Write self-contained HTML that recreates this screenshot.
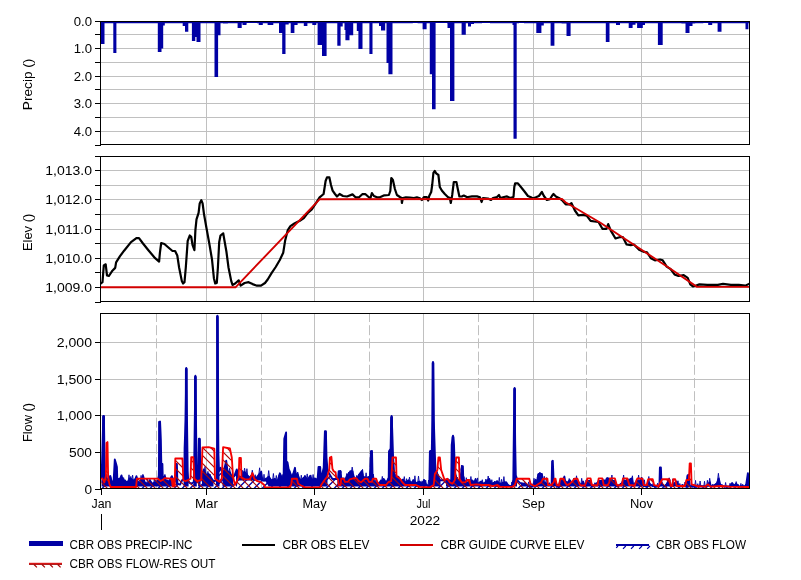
<!DOCTYPE html><html><head><meta charset="utf-8"><title>CBR</title>
<style>html,body{margin:0;padding:0;background:#fff;}svg{display:block}text{filter:grayscale(1);font-family:"Liberation Sans",sans-serif;font-size:12px;fill:#000}</style></head><body>
<svg width="801" height="580" viewBox="0 0 801 580">
<defs>
<pattern id="hb" width="8" height="8" patternUnits="userSpaceOnUse"><path d="M-1,7.5 L7.5,-1 M5.5,9 L9,5.5" stroke="#0000a4" stroke-width="1.25" fill="none"/></pattern>
<pattern id="hr" width="8" height="8" patternUnits="userSpaceOnUse"><path d="M2,-1 L9,6 M-1,4 L4,9" stroke="#a80808" stroke-width="1.2" fill="none"/></pattern>
<clipPath id="c1"><rect x="101" y="22" width="648" height="122"/></clipPath>
<clipPath id="c2"><rect x="101" y="157" width="648" height="144"/></clipPath>
<clipPath id="c3"><rect x="101" y="314" width="648" height="175"/></clipPath>
</defs>
<rect width="801" height="580" fill="#fff"/>
<rect x="101" y="34" width="648" height="1" fill="#c0c0c0"/>
<rect x="101" y="48" width="648" height="1" fill="#c0c0c0"/>
<rect x="101" y="62" width="648" height="1" fill="#c0c0c0"/>
<rect x="101" y="76" width="648" height="1" fill="#c0c0c0"/>
<rect x="101" y="89" width="648" height="1" fill="#c0c0c0"/>
<rect x="101" y="103" width="648" height="1" fill="#c0c0c0"/>
<rect x="101" y="117" width="648" height="1" fill="#c0c0c0"/>
<rect x="101" y="131" width="648" height="1" fill="#c0c0c0"/>
<rect x="206" y="22" width="1" height="122" fill="#c0c0c0"/>
<rect x="314" y="22" width="1" height="122" fill="#c0c0c0"/>
<rect x="423" y="22" width="1" height="122" fill="#c0c0c0"/>
<rect x="533" y="22" width="1" height="122" fill="#c0c0c0"/>
<rect x="641" y="22" width="1" height="122" fill="#c0c0c0"/>
<rect x="101" y="170" width="648" height="1" fill="#c0c0c0"/>
<rect x="101" y="185" width="648" height="1" fill="#c0c0c0"/>
<rect x="101" y="199" width="648" height="1" fill="#c0c0c0"/>
<rect x="101" y="214" width="648" height="1" fill="#c0c0c0"/>
<rect x="101" y="229" width="648" height="1" fill="#c0c0c0"/>
<rect x="101" y="243" width="648" height="1" fill="#c0c0c0"/>
<rect x="101" y="258" width="648" height="1" fill="#c0c0c0"/>
<rect x="101" y="272" width="648" height="1" fill="#c0c0c0"/>
<rect x="101" y="287" width="648" height="1" fill="#c0c0c0"/>
<rect x="206" y="157" width="1" height="144" fill="#c0c0c0"/>
<rect x="314" y="157" width="1" height="144" fill="#c0c0c0"/>
<rect x="423" y="157" width="1" height="144" fill="#c0c0c0"/>
<rect x="533" y="157" width="1" height="144" fill="#c0c0c0"/>
<rect x="641" y="157" width="1" height="144" fill="#c0c0c0"/>
<rect x="101" y="452" width="648" height="1" fill="#c0c0c0"/>
<rect x="101" y="415" width="648" height="1" fill="#c0c0c0"/>
<rect x="101" y="379" width="648" height="1" fill="#c0c0c0"/>
<rect x="101" y="342" width="648" height="1" fill="#c0c0c0"/>
<rect x="206" y="314" width="1" height="174" fill="#c0c0c0"/>
<rect x="314" y="314" width="1" height="174" fill="#c0c0c0"/>
<rect x="423" y="314" width="1" height="174" fill="#c0c0c0"/>
<rect x="533" y="314" width="1" height="174" fill="#c0c0c0"/>
<rect x="641" y="314" width="1" height="174" fill="#c0c0c0"/>
<line x1="156.5" y1="314" x2="156.5" y2="488" stroke="#c0c0c0" stroke-width="1" stroke-dasharray="10,3.2" stroke-dashoffset="2"/>
<line x1="261.5" y1="314" x2="261.5" y2="488" stroke="#c0c0c0" stroke-width="1" stroke-dasharray="10,3.2" stroke-dashoffset="2"/>
<line x1="369.5" y1="314" x2="369.5" y2="488" stroke="#c0c0c0" stroke-width="1" stroke-dasharray="10,3.2" stroke-dashoffset="2"/>
<line x1="478.5" y1="314" x2="478.5" y2="488" stroke="#c0c0c0" stroke-width="1" stroke-dasharray="10,3.2" stroke-dashoffset="2"/>
<line x1="586.5" y1="314" x2="586.5" y2="488" stroke="#c0c0c0" stroke-width="1" stroke-dasharray="10,3.2" stroke-dashoffset="2"/>
<line x1="694.5" y1="314" x2="694.5" y2="488" stroke="#c0c0c0" stroke-width="1" stroke-dasharray="10,3.2" stroke-dashoffset="2"/>
<g clip-path="url(#c1)" fill="#0000a4">
<path d="M101,21 L101.0,23.2 L101.0,44.0 L104.5,44.0 L104.5,23.2 L113.3,23.2 L113.3,53.0 L116.4,53.0 L116.4,23.2 L157.8,23.2 L157.8,52.0 L161.5,52.0 L161.5,23.2 L161.5,23.2 L161.5,48.5 L163.2,48.5 L163.2,23.2 L163.2,23.2 L163.2,25.5 L164.8,25.5 L164.8,23.2 L182.7,23.2 L182.7,26.0 L185.0,26.0 L185.0,23.2 L185.0,23.2 L185.0,31.7 L188.3,31.7 L188.3,23.2 L191.9,23.2 L191.9,41.0 L195.3,41.0 L195.3,23.2 L195.3,23.2 L195.3,37.0 L196.5,37.0 L196.5,23.2 L196.5,23.2 L196.5,42.0 L200.5,42.0 L200.5,23.2 L214.5,23.2 L214.5,77.0 L218.1,77.0 L218.1,23.2 L218.1,23.2 L218.1,35.3 L220.5,35.3 L220.5,23.2 L223.0,23.2 L223.0,23.4 L227.9,23.4 L227.9,23.2 L237.6,23.2 L237.6,28.0 L241.7,28.0 L241.7,23.2 L242.5,23.2 L242.5,25.0 L246.5,25.0 L246.5,23.2 L247.0,23.2 L247.0,23.0 L257.0,23.0 L257.0,23.2 L258.7,23.2 L258.7,25.0 L262.8,25.0 L262.8,23.2 L267.6,23.2 L267.6,25.0 L273.3,25.0 L273.3,23.2 L279.0,23.2 L279.0,32.9 L282.2,32.9 L282.2,23.2 L282.2,23.2 L282.2,54.0 L285.5,54.0 L285.5,23.2 L285.5,23.2 L285.5,24.5 L288.7,24.5 L288.7,23.2 L290.7,23.2 L290.7,32.9 L294.4,32.9 L294.4,23.2 L294.4,23.2 L294.4,25.0 L297.6,25.0 L297.6,23.2 L303.8,23.2 L303.8,26.0 L307.4,26.0 L307.4,23.2 L312.3,23.2 L312.3,25.0 L316.3,25.0 L316.3,23.2 L317.6,23.2 L317.6,45.0 L322.0,45.0 L322.0,23.2 L322.0,23.2 L322.0,56.0 L326.6,56.0 L326.6,23.2 L337.3,23.2 L337.3,45.8 L340.6,45.8 L340.6,23.2 L340.6,23.2 L340.6,26.4 L342.7,26.4 L342.7,23.2 L344.5,23.2 L344.5,30.0 L345.4,30.0 L345.4,23.2 L345.4,23.2 L345.4,40.2 L349.5,40.2 L349.5,23.2 L349.5,23.2 L349.5,35.3 L353.2,35.3 L353.2,23.2 L356.8,23.2 L356.8,31.0 L358.4,31.0 L358.4,23.2 L358.4,23.2 L358.4,49.0 L362.5,49.0 L362.5,23.2 L369.4,23.2 L369.4,54.0 L372.5,54.0 L372.5,23.2 L379.0,23.2 L379.0,26.0 L381.0,26.0 L381.0,23.2 L381.0,23.2 L381.0,30.4 L385.2,30.4 L385.2,23.2 L386.5,23.2 L386.5,63.0 L388.4,63.0 L388.4,23.2 L388.4,23.2 L388.4,74.3 L392.5,74.3 L392.5,23.2 L412.8,23.2 L412.8,23.0 L417.6,23.0 L417.6,23.2 L422.6,23.2 L422.6,29.3 L426.6,29.3 L426.6,23.2 L429.8,23.2 L429.8,74.3 L432.0,74.3 L432.0,23.2 L432.0,23.2 L432.0,109.2 L435.6,109.2 L435.6,23.2 L435.6,23.2 L435.6,23.0 L447.0,23.0 L447.0,23.2 L447.5,23.2 L447.5,28.0 L450.0,28.0 L450.0,23.2 L450.0,23.2 L450.0,101.0 L454.4,101.0 L454.4,23.2 L461.6,23.2 L461.6,34.8 L465.8,34.8 L465.8,23.2 L468.0,23.2 L468.0,26.6 L471.0,26.6 L471.0,23.2 L471.0,23.2 L471.0,24.0 L474.0,24.0 L474.0,23.2 L482.0,23.2 L482.0,23.0 L490.0,23.0 L490.0,23.2 L512.5,23.2 L512.5,25.0 L513.5,25.0 L513.5,23.2 L513.5,23.2 L513.5,138.7 L516.7,138.7 L516.7,23.2 L519.0,23.2 L519.0,23.0 L524.0,23.0 L524.0,23.2 L536.3,23.2 L536.3,32.9 L541.4,32.9 L541.4,23.2 L541.4,23.2 L541.4,25.5 L543.8,25.5 L543.8,23.2 L550.6,23.2 L550.6,45.8 L554.4,45.8 L554.4,23.2 L561.6,23.2 L561.6,23.4 L566.5,23.4 L566.5,23.2 L566.5,23.2 L566.5,36.0 L570.6,36.0 L570.6,23.2 L577.9,23.2 L577.9,23.2 L583.6,23.2 L583.6,23.2 L605.8,23.2 L605.8,42.1 L609.5,42.1 L609.5,23.2 L616.0,23.2 L616.0,25.0 L620.0,25.0 L620.0,23.2 L628.7,23.2 L628.7,28.0 L632.6,28.0 L632.6,23.2 L632.6,23.2 L632.6,24.7 L635.5,24.7 L635.5,23.2 L637.1,23.2 L637.1,28.0 L642.8,28.0 L642.8,23.2 L642.8,23.2 L642.8,25.0 L645.0,25.0 L645.0,23.2 L657.9,23.2 L657.9,45.0 L662.7,45.0 L662.7,23.2 L681.4,23.2 L681.4,23.5 L685.5,23.5 L685.5,23.2 L685.5,23.2 L685.5,32.9 L689.5,32.9 L689.5,23.2 L689.5,23.2 L689.5,26.0 L692.5,26.0 L692.5,23.2 L692.5,23.2 L692.5,23.5 L695.2,23.5 L695.2,23.2 L703.3,23.2 L703.3,23.0 L708.2,23.0 L708.2,23.2 L708.2,23.2 L708.2,25.0 L712.2,25.0 L712.2,23.2 L717.6,23.2 L717.6,31.7 L721.5,31.7 L721.5,23.2 L745.5,23.2 L745.5,29.3 L748.4,29.3 L748.4,23.2 L749,23.2 L749,21 Z"/>
</g>
<g clip-path="url(#c2)" fill="none" stroke-linejoin="round" stroke-linecap="round">
<polyline points="100.9,283.5 102.5,282.2 103.8,265.4 105.7,264.3 107.0,275.5 108.9,276.0 112.4,270.7 115.2,267.9 116.1,262.4 120.0,256.2 124.1,250.7 131.0,242.1 136.4,238.1 139.0,238.1 143.0,243.5 148.4,250.2 155.1,258.2 159.1,261.6 159.9,252.8 161.2,243.0 164.4,244.0 168.4,247.5 172.5,251.0 175.1,251.0 177.3,255.5 179.1,267.5 181.8,280.9 183.1,283.5 184.5,282.2 185.8,267.5 187.7,240.8 189.8,235.5 191.2,236.8 192.5,244.8 194.4,250.2 195.4,230.1 196.5,219.4 198.6,212.8 199.7,203.4 201.3,200.2 202.6,203.4 204.0,214.1 206.6,228.8 209.3,243.5 212.0,259.5 213.9,278.2 215.2,283.5 216.8,283.0 217.9,267.5 219.2,242.1 220.5,235.5 223.2,233.3 224.5,240.8 226.4,251.5 228.5,267.5 231.2,280.9 232.5,284.9 235.2,283.5 238.7,280.3 240.6,285.7 244.6,283.0 248.6,282.2 252.6,284.1 257.0,285.7 261.0,285.7 265.0,283.0 267.7,279.5 271.7,272.9 275.7,267.0 279.8,260.0 283.2,252.8 285.1,240.8 287.8,230.1 290.4,226.1 294.4,223.5 299.8,220.8 303.8,218.1 307.8,212.8 311.8,209.3 315.8,203.4 319.6,197.3 323.6,194.0 325.6,181.0 327.0,177.4 329.4,177.4 331.0,185.0 332.6,190.6 335.0,194.0 337.0,196.5 339.6,194.0 343.0,196.0 347.0,196.5 352.5,194.4 355.5,197.3 359.0,197.3 362.3,194.2 365.5,194.2 368.9,197.3 370.5,197.9 371.9,193.0 373.9,196.0 376.9,197.3 379.9,197.3 384.3,195.3 388.9,195.0 390.3,191.0 391.3,178.0 392.9,180.0 394.9,189.0 396.9,195.0 399.9,197.0 401.5,198.0 401.9,203.0 402.9,198.0 405.9,197.3 409.9,197.5 413.9,198.0 416.9,197.3 419.9,198.3 421.9,200.0 423.9,197.0 426.8,197.0 428.2,200.5 429.2,196.0 431.2,192.0 432.2,185.0 433.4,173.0 434.8,171.0 436.2,173.4 438.4,175.0 439.8,187.0 441.8,190.5 444.8,194.0 447.8,197.0 449.8,198.0 450.8,203.0 452.2,195.0 453.8,182.0 456.4,182.0 457.8,189.0 459.4,196.5 461.8,196.5 463.8,195.5 466.8,197.0 468.0,197.0 472.0,196.4 477.0,196.4 480.0,197.3 481.6,202.0 483.0,198.0 488.0,198.5 491.0,200.0 493.0,198.0 497.0,197.0 499.0,195.0 500.3,198.0 504.0,197.0 507.0,196.4 510.0,198.0 513.5,197.0 514.3,187.0 515.1,183.4 517.9,183.4 520.9,187.0 524.9,192.0 527.9,196.0 530.9,197.3 532.9,198.5 535.9,197.3 538.9,196.0 541.9,192.0 543.9,196.0 546.9,200.0 549.9,199.3 551.9,196.0 553.5,194.0 555.9,196.5 558.9,198.0 561.9,200.0 565.7,204.4 569.7,204.4 571.5,203.1 574.9,210.5 578.3,215.4 582.8,214.9 586.7,215.7 590.6,220.9 594.6,221.5 598.5,222.0 602.4,228.8 606.4,228.8 608.2,224.1 610.8,230.6 615.5,238.5 619.5,237.2 622.9,237.2 626.6,244.5 630.8,245.1 633.9,244.5 639.1,249.8 643.1,251.6 647.0,252.4 650.9,258.2 654.9,260.3 660.1,259.5 662.7,260.3 666.7,266.6 670.6,269.2 674.5,274.4 678.5,276.0 683.7,275.2 687.7,277.8 690.3,284.4 692.9,286.5 695.5,285.7 699.4,284.4 707.3,284.9 717.8,284.9 723.0,283.9 730.9,284.9 738.8,284.9 745.3,285.7 749.0,283.9" stroke="#000" stroke-width="2.2"/>
<polyline points="101.0,287.3 235.5,287.3 319.8,199.2 562.0,199.0 565.5,202.3 600.0,222.5 670.0,268.5 697.0,286.9 749.0,286.9" stroke="#d20000" stroke-width="1.9"/>
</g>
<g clip-path="url(#c3)" stroke-linejoin="round">
<polygon points="101.5,489 101.6,477.6 102.4,450.0 103.3,416.0 103.9,416.0 104.4,450.0 104.8,475.6 106.7,479.4 109.1,479.4 110.4,476.2 111.5,481.0 113.5,482.6 114.2,470.8 114.8,459.5 116.0,463.5 116.9,466.9 117.3,479.4 120.2,478.6 121.5,475.4 122.6,479.4 125.0,481.0 127.4,482.6 129.7,478.6 131.3,479.1 133.7,481.0 135.3,479.4 136.4,476.2 137.5,481.6 140.0,482.6 143.2,476.2 144.5,482.6 148.0,483.6 150.0,480.6 152.0,483.6 155.0,482.6 158.6,480.1 158.9,471.1 159.3,421.8 160.0,421.5 160.8,440.0 161.3,463.0 162.4,464.0 162.8,479.4 164.7,476.2 166.0,480.6 169.0,481.6 171.8,476.2 173.4,480.2 175.8,481.6 176.3,464.0 176.9,464.0 177.4,483.6 180.0,484.6 182.5,479.6 184.2,479.6 184.4,471.1 184.6,448.0 185.6,420.0 186.3,368.0 187.0,420.0 187.7,471.1 188.2,480.6 189.4,482.6 191.0,483.6 193.5,482.6 194.0,479.6 194.8,420.0 195.4,375.8 196.0,420.0 196.7,479.6 197.5,481.6 198.2,478.6 198.9,438.7 199.7,438.7 200.4,478.6 200.8,480.6 202.0,477.6 203.7,469.4 206.2,475.3 208.7,474.0 211.2,477.8 213.7,481.6 216.9,479.6 217.2,430.0 217.4,315.6 217.8,400.0 218.3,455.0 219.0,471.1 220.6,467.8 223.0,475.3 226.2,460.6 227.5,471.1 230.0,472.6 232.4,477.8 234.5,475.6 236.8,469.4 238.7,476.6 241.0,477.6 244.3,471.8 247.4,475.3 249.9,477.8 252.4,474.0 254.9,479.0 257.4,476.6 261.2,471.8 262.4,480.3 264.9,480.3 268.7,476.6 271.1,480.3 274.9,479.0 277.4,481.6 279.9,473.3 282.4,479.0 283.6,477.6 284.3,438.7 286.1,432.5 286.3,461.2 287.5,462.4 288.7,469.4 291.2,475.3 292.5,476.6 295.0,467.8 295.6,475.3 297.5,474.0 299.4,479.0 301.2,480.3 305.0,476.6 307.5,480.3 310.0,475.9 311.8,480.3 315.0,478.4 317.5,480.3 318.5,467.0 320.2,467.0 320.8,480.3 323.7,467.8 324.9,431.2 325.9,431.2 326.5,457.5 327.6,471.1 332.4,479.0 338.0,479.0 338.7,471.1 340.6,471.1 341.2,477.8 344.9,480.3 347.4,475.3 348.7,474.0 350.5,471.1 352.4,471.1 353.7,476.6 356.2,480.3 358.7,475.3 361.8,471.1 363.0,476.6 366.1,477.8 369.9,476.6 370.9,451.2 372.0,451.0 372.5,474.0 373.7,481.6 377.5,484.0 382.5,480.3 383.7,479.0 386.2,482.8 388.7,477.8 389.0,451.2 390.6,448.7 391.2,420.0 391.6,416.0 392.2,430.0 393.1,457.5 394.3,475.3 398.7,477.2 400.0,481.6 403.1,479.6 405.0,482.8 408.7,480.3 411.2,482.8 413.7,480.3 416.2,483.4 419.3,481.6 422.4,484.0 424.3,480.3 425.5,484.0 429.3,486.5 429.9,451.2 431.8,450.0 432.4,420.0 433.0,362.0 433.8,420.0 434.9,455.0 435.5,471.1 438.0,475.3 439.9,480.3 444.9,480.3 447.4,479.0 451.2,481.6 451.7,445.0 453.0,435.6 454.0,445.0 455.0,474.0 457.4,480.3 459.9,481.6 462.1,466.3 462.9,466.3 463.3,480.3 466.2,481.6 468.7,484.0 471.9,480.3 473.7,484.0 475.6,479.0 477.5,484.0 481.2,481.6 483.7,484.0 489.3,479.0 491.2,484.0 493.7,482.8 497.5,481.6 499.9,484.0 503.0,482.8 506.2,482.1 508.0,485.3 511.8,486.5 513.3,479.6 514.0,420.0 514.6,388.0 515.2,445.0 515.8,475.3 517.4,480.3 519.9,482.8 524.9,484.0 529.9,486.5 532.4,486.5 535.5,480.3 536.8,482.8 538.5,474.0 541.9,474.0 543.0,481.6 547.4,484.0 551.6,485.3 552.1,461.2 552.8,460.8 553.6,480.3 555.5,481.3 556.7,485.2 557.5,486.5 559.0,484.9 560.3,481.3 562.5,481.3 563.7,478.3 564.4,476.6 565.0,480.3 565.6,484.0 566.9,482.9 570.0,480.3 570.0,480.3 571.8,484.5 572.5,483.7 574.3,481.3 575.6,480.3 577.5,481.3 577.5,481.3 579.3,483.2 580.6,484.7 581.2,485.3 583.1,481.6 585.0,486.5 585.0,486.5 586.2,484.7 587.5,481.0 588.7,481.0 590.6,481.0 591.8,485.6 592.4,486.5 597.4,482.8 598.7,481.0 599.9,481.0 602.4,481.0 602.4,481.0 603.7,480.8 606.2,480.3 606.8,478.4 607.4,478.4 608.7,478.4 609.3,479.7 609.9,481.0 609.9,481.0 613.7,481.0 614.9,481.0 616.8,485.6 617.4,486.5 621.8,483.3 623.0,481.0 624.9,481.0 627.4,481.0 627.4,481.0 629.3,479.9 631.8,478.4 633.0,485.3 634.9,483.4 636.1,482.3 637.4,481.0 637.4,481.0 639.9,481.1 642.3,478.6 642.4,479.1 643.6,485.1 643.7,485.6 646.7,486.5 646.7,486.5 648.2,481.8 650.5,484.5 655.0,486.5 659.4,486.0 659.9,467.5 660.9,467.5 661.5,484.5 665.5,486.5 669.2,479.3 670.7,486.5 676.7,481.6 678.2,486.5 682.0,485.3 686.9,486.5 687.5,475.6 688.5,474.8 689.0,486.0 693.9,486.5 699.9,486.0 706.5,486.5 709.7,482.3 711.0,486.5 716.5,484.0 718.7,478.5 720.2,484.6 723.9,486.5 729.9,486.5 732.1,483.0 734.4,486.0 735.9,483.8 738.9,486.5 746.0,486.0 747.9,473.2 749.0,481.6 749,489" fill="url(#hb)"/>
<polygon points="101.6,477.6 102.4,450.0 103.3,416.0 103.9,416.0 104.4,450.0 104.8,475.6 106.7,479.4 109.1,479.4 110.4,476.2 111.5,481.0 113.5,482.6 114.2,470.8 114.8,459.5 116.0,463.5 116.9,466.9 117.3,479.4 120.2,478.6 121.5,475.4 122.6,479.4 125.0,481.0 127.4,482.6 129.7,478.6 131.3,479.1 133.7,481.0 135.3,479.4 136.4,476.2 137.5,481.6 140.0,482.6 143.2,476.2 144.5,482.6 148.0,483.6 150.0,480.6 152.0,483.6 155.0,482.6 158.6,480.1 158.9,471.1 159.3,421.8 160.0,421.5 160.8,440.0 161.3,463.0 162.4,464.0 162.8,479.4 164.7,476.2 166.0,480.6 169.0,481.6 171.8,476.2 173.0,479.2 173.0,479.2 173.4,480.2 175.8,481.6 176.0,474.6 176.0,474.2 176.3,464.0 176.9,464.0 177.3,479.3 177.3,479.7 177.4,483.6 180.0,484.6 182.5,479.6 183.6,479.6 183.6,479.6 184.2,479.6 184.4,471.1 184.6,448.0 185.6,420.0 186.3,368.0 187.0,420.0 187.7,471.1 188.2,480.6 188.6,481.3 188.6,481.3 189.4,482.6 191.0,483.6 193.5,482.6 193.9,480.2 193.9,480.1 194.0,479.6 194.8,420.0 195.4,375.8 196.0,420.0 196.7,479.6 196.8,479.8 196.8,479.9 197.5,481.6 198.1,479.0 198.1,479.0 198.2,478.6 198.9,438.7 199.7,438.7 200.4,478.6 200.5,479.1 200.5,479.1 200.8,480.6 202.0,477.6 202.0,477.6 203.7,469.4 206.2,475.3 208.7,474.0 211.2,477.8 213.5,481.3 213.5,481.3 213.7,481.6 216.0,480.2 216.0,480.2 216.9,479.6 217.2,430.0 217.4,315.6 217.8,400.0 218.3,455.0 219.0,471.1 219.5,470.1 219.5,470.0 220.6,467.8 222.5,473.7 222.5,473.8 223.0,475.3 226.2,460.6 227.5,471.1 230.0,472.6 232.4,477.8 233.0,477.2 233.0,477.2 234.5,475.6 236.0,471.6 236.0,471.5 236.8,469.4 238.0,474.0 238.7,476.6 241.0,477.6 244.3,471.8 247.4,475.3 249.9,477.8 252.4,474.0 254.9,479.0 257.4,476.6 261.2,471.8 262.4,480.3 264.9,480.3 265.0,480.2 268.7,476.6 271.1,480.3 274.9,479.0 277.4,481.6 279.9,473.3 282.4,479.0 283.6,477.6 284.3,438.7 286.1,432.5 286.3,461.2 287.5,462.4 288.7,469.4 291.2,475.3 292.5,476.6 295.0,467.8 295.6,475.3 297.5,474.0 299.4,479.0 301.2,480.3 305.0,476.6 307.5,480.3 310.0,475.9 311.8,480.3 315.0,478.4 317.5,480.3 318.5,467.0 320.2,467.0 320.8,480.3 323.7,467.8 324.9,431.2 325.9,431.2 326.5,457.5 327.5,469.7 327.5,469.8 327.6,471.1 332.4,479.0 337.5,479.0 337.5,479.0 338.0,479.0 338.7,471.1 340.6,471.1 341.2,477.8 344.9,480.3 347.4,475.3 348.7,474.0 350.5,471.1 352.4,471.1 353.7,476.6 356.2,480.3 358.7,475.3 361.8,471.1 363.0,476.6 366.1,477.8 369.9,476.6 370.9,451.2 372.0,451.0 372.5,474.0 373.7,481.6 377.5,484.0 382.5,480.3 383.7,479.0 386.2,482.8 388.7,477.8 389.0,451.2 390.6,448.7 391.2,420.0 391.6,416.0 392.2,430.0 393.1,457.5 394.3,475.3 398.7,477.2 400.0,481.6 403.1,479.6 405.0,482.8 408.7,480.3 411.2,482.8 413.7,480.3 416.2,483.4 419.3,481.6 422.4,484.0 424.3,480.3 425.5,484.0 429.3,486.5 429.9,451.2 431.8,450.0 432.4,420.0 433.0,362.0 433.8,420.0 434.9,455.0 435.5,471.1 438.0,475.3 439.9,480.3 440.5,480.3 440.5,480.3 444.9,480.3 446.0,479.7 446.0,479.7 447.4,479.0 451.2,481.6 451.7,445.0 453.0,435.6 454.0,445.0 455.0,474.0 457.4,480.3 459.9,481.6 462.1,466.3 462.9,466.3 463.3,480.3 466.2,481.6 468.7,484.0 471.9,480.3 473.7,484.0 475.6,479.0 477.5,484.0 481.2,481.6 483.7,484.0 489.3,479.0 491.2,484.0 493.7,482.8 497.5,481.6 499.9,484.0 503.0,482.8 506.2,482.1 508.0,485.3 511.8,486.5 513.3,479.6 514.0,420.0 514.6,388.0 515.2,445.0 515.8,475.3 517.0,479.0 517.0,479.1 517.4,480.3 519.9,482.8 521.0,483.1 521.0,483.1 524.9,484.0 529.9,486.5 532.4,486.5 535.5,480.3 536.8,482.8 538.5,474.0 541.9,474.0 543.0,481.6 547.4,484.0 551.6,485.3 552.1,461.2 552.8,460.8 553.6,480.3 555.5,481.3 556.7,485.2 557.5,486.5 559.0,484.9 560.3,481.3 562.5,481.3 563.7,478.3 564.4,476.6 565.0,480.3 565.6,484.0 566.9,482.9 570.0,480.3 571.8,484.5 572.5,483.7 574.3,481.3 575.6,480.3 577.5,481.3 579.3,483.2 580.6,484.7 581.2,485.3 583.1,481.6 585.0,486.5 586.2,484.7 587.5,481.0 588.7,481.0 590.6,481.0 591.8,485.6 592.4,486.5 597.4,482.8 598.7,481.0 599.9,481.0 602.4,481.0 603.7,480.8 606.2,480.3 606.8,478.4 607.4,478.4 608.7,478.4 609.3,479.7 609.9,481.0 613.7,481.0 614.9,481.0 616.8,485.6 617.4,486.5 621.8,483.3 623.0,481.0 624.9,481.0 627.4,481.0 629.3,479.9 631.8,478.4 633.0,485.3 634.9,483.4 636.1,482.3 637.4,481.0 639.9,481.1 642.3,478.6 642.4,479.1 643.6,485.1 643.7,485.6 646.7,486.5 648.2,481.8 650.5,484.5 655.0,486.5 659.4,486.0 659.9,467.5 660.9,467.5 661.5,484.5 665.5,486.5 669.2,479.3 670.7,486.5 676.7,481.6 678.2,486.5 682.0,485.3 686.9,486.5 687.5,475.6 688.5,474.8 689.0,486.0 693.9,486.5 699.9,486.0 706.5,486.5 709.7,482.3 711.0,486.5 716.5,484.0 718.7,478.5 720.2,484.6 723.9,486.5 729.9,486.5 732.1,483.0 734.4,486.0 735.9,483.8 738.9,486.5 746.0,486.0 747.9,473.2 749.0,481.6 749.0,486.6 747.9,486.6 746.0,486.6 738.9,486.6 735.9,486.6 734.4,486.6 732.1,486.6 729.9,486.6 723.9,486.6 720.2,486.6 718.7,486.6 716.5,486.6 711.0,486.6 709.7,486.6 706.5,486.6 699.9,486.6 693.9,486.6 689.0,486.6 688.5,486.6 687.5,486.6 686.9,486.6 682.0,486.6 678.2,486.6 676.7,486.6 670.7,486.6 669.2,486.6 665.5,486.6 661.5,486.6 660.9,486.6 659.9,486.6 659.4,486.6 655.0,486.6 650.5,486.6 648.2,486.6 646.7,486.6 643.7,486.6 643.6,486.6 642.4,486.6 642.3,486.6 639.9,486.6 637.4,486.6 636.1,486.6 634.9,486.6 633.0,486.6 631.8,486.6 629.3,486.6 627.4,486.6 624.9,486.6 623.0,486.6 621.8,486.6 617.4,486.6 616.8,486.6 614.9,486.6 613.7,486.6 609.9,486.6 609.3,486.6 608.7,486.6 607.4,486.6 606.8,486.6 606.2,486.6 603.7,486.6 602.4,486.6 599.9,486.6 598.7,486.6 597.4,486.6 592.4,486.6 591.8,486.6 590.6,486.6 588.7,486.6 587.5,486.6 586.2,486.6 585.0,486.6 583.1,486.6 581.2,486.6 580.6,486.6 579.3,486.6 577.5,486.6 575.6,486.6 574.3,486.6 572.5,486.6 571.8,486.6 570.0,486.6 566.9,486.6 565.6,486.6 565.0,486.6 564.4,486.6 563.7,486.6 562.5,486.6 560.3,486.6 559.0,486.6 557.5,486.6 556.7,486.6 555.5,486.6 553.6,486.6 552.8,486.6 552.1,486.6 551.6,486.6 547.4,486.6 543.0,486.6 541.9,486.6 538.5,486.6 536.8,486.6 535.5,486.6 532.4,486.6 529.9,486.6 524.9,486.6 521.0,486.6 521.0,483.1 519.9,482.8 517.4,480.3 517.0,479.1 517.0,486.6 515.8,486.6 515.2,486.6 514.6,486.6 514.0,486.6 513.3,486.6 511.8,486.6 508.0,486.6 506.2,486.6 503.0,486.6 499.9,486.6 497.5,486.6 493.7,486.6 491.2,486.6 489.3,486.6 483.7,486.6 481.2,486.6 477.5,486.6 475.6,486.6 473.7,486.6 471.9,486.6 468.7,486.6 466.2,486.6 463.3,486.6 462.9,486.6 462.1,486.6 459.9,486.6 457.4,486.6 455.0,486.6 454.0,486.6 453.0,486.6 451.7,486.6 451.2,486.6 447.4,486.6 446.0,486.6 446.0,479.7 444.9,480.3 440.5,480.3 440.5,486.6 439.9,486.6 438.0,486.6 435.5,486.6 434.9,486.6 433.8,486.6 433.0,486.6 432.4,486.6 431.8,486.6 429.9,486.6 429.3,486.6 425.5,486.6 424.3,486.6 422.4,486.6 419.3,486.6 416.2,486.6 413.7,486.6 411.2,486.6 408.7,486.6 405.0,486.6 403.1,486.6 400.0,486.6 398.7,486.6 394.3,486.6 393.1,486.6 392.2,486.6 391.6,486.6 391.2,486.6 390.6,486.6 389.0,486.6 388.7,486.6 386.2,486.6 383.7,486.6 382.5,486.6 377.5,486.6 373.7,486.6 372.5,486.6 372.0,486.6 370.9,486.6 369.9,486.6 366.1,486.6 363.0,486.6 361.8,486.6 358.7,486.6 356.2,486.6 353.7,486.6 352.4,486.6 350.5,486.6 348.7,486.6 347.4,486.6 344.9,486.6 341.2,486.6 340.6,486.6 338.7,486.6 338.0,486.6 337.5,486.6 337.5,479.0 332.4,479.0 327.6,471.1 327.5,469.8 327.5,486.6 326.5,486.6 325.9,486.6 324.9,486.6 323.7,486.6 320.8,486.6 320.2,486.6 318.5,486.6 317.5,486.6 315.0,486.6 311.8,486.6 310.0,486.6 307.5,486.6 305.0,486.6 301.2,486.6 299.4,486.6 297.5,486.6 295.6,486.6 295.0,486.6 292.5,486.6 291.2,486.6 288.7,486.6 287.5,486.6 286.3,486.6 286.1,486.6 284.3,486.6 283.6,486.6 282.4,486.6 279.9,486.6 277.4,486.6 274.9,486.6 271.1,486.6 268.7,486.6 265.0,480.5 264.9,480.5 262.4,480.5 261.2,480.5 257.4,480.5 254.9,480.5 252.4,480.5 249.9,480.5 247.4,480.5 244.3,480.5 241.0,480.5 238.7,480.5 238.0,480.5 236.8,486.6 236.0,486.6 236.0,471.6 234.5,475.6 233.0,477.2 233.0,486.6 232.4,486.6 230.0,486.6 227.5,486.6 226.2,486.6 223.0,486.6 222.5,486.6 222.5,473.7 220.6,467.8 219.5,470.0 219.5,486.6 219.0,486.6 218.3,486.6 217.8,486.6 217.4,486.6 217.2,486.6 216.9,486.6 216.0,486.6 216.0,480.2 213.7,481.6 213.5,481.3 213.5,486.6 211.2,486.6 208.7,486.6 206.2,486.6 203.7,486.6 202.0,486.6 202.0,477.6 200.8,480.6 200.5,479.1 200.5,486.6 200.4,486.6 199.7,486.6 198.9,486.6 198.2,486.6 198.1,486.6 198.1,479.0 197.5,481.6 196.8,479.9 196.8,486.6 196.7,486.6 196.0,486.6 195.4,486.6 194.8,486.6 194.0,486.6 193.9,486.6 193.9,480.2 193.5,482.6 191.0,483.6 189.4,482.6 188.6,481.3 188.6,486.6 188.2,486.6 187.7,486.6 187.0,486.6 186.3,486.6 185.6,486.6 184.6,486.6 184.4,486.6 184.2,486.6 183.6,486.6 183.6,479.6 182.5,479.6 180.0,484.6 177.4,483.6 177.3,479.7 177.3,486.6 176.9,486.6 176.3,486.6 176.0,486.6 176.0,474.6 175.8,481.6 173.4,480.2 173.0,479.2 173.0,486.6 171.8,486.6 169.0,486.6 166.0,486.6 164.7,486.6 162.8,486.6 162.4,486.6 161.3,486.6 160.8,486.6 160.0,486.6 159.3,486.6 158.9,486.6 158.6,486.6 155.0,486.6 152.0,486.6 150.0,486.6 148.0,486.6 144.5,486.6 143.2,486.6 140.0,486.6 137.5,486.6 136.4,486.6 135.3,486.6 133.7,486.6 131.3,486.6 129.7,486.6 127.4,486.6 125.0,486.6 122.6,486.6 121.5,486.6 120.2,486.6 117.3,486.6 116.9,486.6 116.0,486.6 114.8,486.6 114.2,486.6 113.5,486.6 111.5,486.6 110.4,486.6 109.1,486.6 106.7,486.6 104.8,486.6 104.4,486.6 103.9,486.6 103.3,486.6 102.4,486.6 101.6,486.6" fill="#0000a4"/>
<polyline points="101.6,477.6 102.4,450.0 103.3,416.0 103.9,416.0 104.4,450.0 104.8,475.6 106.7,479.4 109.1,479.4 110.4,476.2 111.5,481.0 113.5,482.6 114.2,470.8 114.8,459.5 116.0,463.5 116.9,466.9 117.3,479.4 120.2,478.6 121.5,475.4 122.6,479.4 125.0,481.0 127.4,482.6 129.7,478.6 131.3,479.1 133.7,481.0 135.3,479.4 136.4,476.2 137.5,481.6 140.0,482.6 143.2,476.2 144.5,482.6 148.0,483.6 150.0,480.6 152.0,483.6 155.0,482.6 158.6,480.1 158.9,471.1 159.3,421.8 160.0,421.5 160.8,440.0 161.3,463.0 162.4,464.0 162.8,479.4 164.7,476.2 166.0,480.6 169.0,481.6 171.8,476.2 173.4,480.2 175.8,481.6 176.3,464.0 176.9,464.0 177.4,483.6 180.0,484.6 182.5,479.6 184.2,479.6 184.4,471.1 184.6,448.0 185.6,420.0 186.3,368.0 187.0,420.0 187.7,471.1 188.2,480.6 189.4,482.6 191.0,483.6 193.5,482.6 194.0,479.6 194.8,420.0 195.4,375.8 196.0,420.0 196.7,479.6 197.5,481.6 198.2,478.6 198.9,438.7 199.7,438.7 200.4,478.6 200.8,480.6 202.0,477.6 203.7,469.4 206.2,475.3 208.7,474.0 211.2,477.8 213.7,481.6 216.9,479.6 217.2,430.0 217.4,315.6 217.8,400.0 218.3,455.0 219.0,471.1 220.6,467.8 223.0,475.3 226.2,460.6 227.5,471.1 230.0,472.6 232.4,477.8 234.5,475.6 236.8,469.4 238.7,476.6 241.0,477.6 244.3,471.8 247.4,475.3 249.9,477.8 252.4,474.0 254.9,479.0 257.4,476.6 261.2,471.8 262.4,480.3 264.9,480.3 268.7,476.6 271.1,480.3 274.9,479.0 277.4,481.6 279.9,473.3 282.4,479.0 283.6,477.6 284.3,438.7 286.1,432.5 286.3,461.2 287.5,462.4 288.7,469.4 291.2,475.3 292.5,476.6 295.0,467.8 295.6,475.3 297.5,474.0 299.4,479.0 301.2,480.3 305.0,476.6 307.5,480.3 310.0,475.9 311.8,480.3 315.0,478.4 317.5,480.3 318.5,467.0 320.2,467.0 320.8,480.3 323.7,467.8 324.9,431.2 325.9,431.2 326.5,457.5 327.6,471.1 332.4,479.0 338.0,479.0 338.7,471.1 340.6,471.1 341.2,477.8 344.9,480.3 347.4,475.3 348.7,474.0 350.5,471.1 352.4,471.1 353.7,476.6 356.2,480.3 358.7,475.3 361.8,471.1 363.0,476.6 366.1,477.8 369.9,476.6 370.9,451.2 372.0,451.0 372.5,474.0 373.7,481.6 377.5,484.0 382.5,480.3 383.7,479.0 386.2,482.8 388.7,477.8 389.0,451.2 390.6,448.7 391.2,420.0 391.6,416.0 392.2,430.0 393.1,457.5 394.3,475.3 398.7,477.2 400.0,481.6 403.1,479.6 405.0,482.8 408.7,480.3 411.2,482.8 413.7,480.3 416.2,483.4 419.3,481.6 422.4,484.0 424.3,480.3 425.5,484.0 429.3,486.5 429.9,451.2 431.8,450.0 432.4,420.0 433.0,362.0 433.8,420.0 434.9,455.0 435.5,471.1 438.0,475.3 439.9,480.3 444.9,480.3 447.4,479.0 451.2,481.6 451.7,445.0 453.0,435.6 454.0,445.0 455.0,474.0 457.4,480.3 459.9,481.6 462.1,466.3 462.9,466.3 463.3,480.3 466.2,481.6 468.7,484.0 471.9,480.3 473.7,484.0 475.6,479.0 477.5,484.0 481.2,481.6 483.7,484.0 489.3,479.0 491.2,484.0 493.7,482.8 497.5,481.6 499.9,484.0 503.0,482.8 506.2,482.1 508.0,485.3 511.8,486.5 513.3,479.6 514.0,420.0 514.6,388.0 515.2,445.0 515.8,475.3 517.4,480.3 519.9,482.8 524.9,484.0 529.9,486.5 532.4,486.5 535.5,480.3 536.8,482.8 538.5,474.0 541.9,474.0 543.0,481.6 547.4,484.0 551.6,485.3 552.1,461.2 552.8,460.8 553.6,480.3 555.5,481.3 556.7,485.2 557.5,486.5 559.0,484.9 560.3,481.3 562.5,481.3 563.7,478.3 564.4,476.6 565.0,480.3 565.6,484.0 566.9,482.9 570.0,480.3 570.0,480.3 571.8,484.5 572.5,483.7 574.3,481.3 575.6,480.3 577.5,481.3 577.5,481.3 579.3,483.2 580.6,484.7 581.2,485.3 583.1,481.6 585.0,486.5 585.0,486.5 586.2,484.7 587.5,481.0 588.7,481.0 590.6,481.0 591.8,485.6 592.4,486.5 597.4,482.8 598.7,481.0 599.9,481.0 602.4,481.0 602.4,481.0 603.7,480.8 606.2,480.3 606.8,478.4 607.4,478.4 608.7,478.4 609.3,479.7 609.9,481.0 609.9,481.0 613.7,481.0 614.9,481.0 616.8,485.6 617.4,486.5 621.8,483.3 623.0,481.0 624.9,481.0 627.4,481.0 627.4,481.0 629.3,479.9 631.8,478.4 633.0,485.3 634.9,483.4 636.1,482.3 637.4,481.0 637.4,481.0 639.9,481.1 642.3,478.6 642.4,479.1 643.6,485.1 643.7,485.6 646.7,486.5 646.7,486.5 648.2,481.8 650.5,484.5 655.0,486.5 659.4,486.0 659.9,467.5 660.9,467.5 661.5,484.5 665.5,486.5 669.2,479.3 670.7,486.5 676.7,481.6 678.2,486.5 682.0,485.3 686.9,486.5 687.5,475.6 688.5,474.8 689.0,486.0 693.9,486.5 699.9,486.0 706.5,486.5 709.7,482.3 711.0,486.5 716.5,484.0 718.7,478.5 720.2,484.6 723.9,486.5 729.9,486.5 732.1,483.0 734.4,486.0 735.9,483.8 738.9,486.5 746.0,486.0 747.9,473.2 749.0,481.6" fill="none" stroke="#0000a4" stroke-width="1.9" stroke-linecap="round"/>
<path d="M103.6,416.8 L103.5,470.0 M159.7,422.3 L160.1,470.0 M186.3,369.2 L186.0,470.0 M195.4,377.0 L195.4,470.0 M199.3,439.8 L199.4,470.0 M217.4,316.8 L217.9,470.0 M325.4,432.3 L325.6,466.0 M391.6,417.3 L391.5,470.0 M433.0,363.2 L433.1,470.0 M453.0,437.0 L453.2,470.0 M514.6,389.2 L514.6,475.0" fill="none" stroke="#0000a4" stroke-width="2.7" stroke-linecap="round"/>
<path d="M105.1,479.5 L106.0,474.0 L106.9,479.5 M107.4,480.9 L108.3,474.4 L109.2,480.9 M109.2,478.4 L110.1,475.4 L111.0,478.4 M118.3,480.4 L119.2,477.9 L120.1,480.4 M122.7,481.6 L123.6,477.6 L124.5,481.6 M124.5,482.8 L125.4,479.8 L126.3,482.8 M128.1,481.3 L129.0,474.8 L129.9,481.3 M129.9,480.4 L130.8,476.4 L131.7,480.4 M131.7,481.6 L132.6,475.1 L133.5,481.6 M133.5,481.8 L134.4,478.8 L135.3,481.8 M135.8,479.2 L136.7,476.7 L137.6,479.2 M140.2,481.9 L141.1,475.4 L142.0,481.9 M142.0,478.3 L142.9,474.3 L143.8,478.3 M143.8,484.2 L144.7,480.7 L145.6,484.2 M146.7,485.0 L147.6,478.5 L148.5,485.0 M149.0,482.2 L149.9,479.2 L150.8,482.2 M153.4,484.3 L154.3,479.8 L155.2,484.3 M157.8,478.6 L158.7,475.1 L159.6,478.6 M164.0,478.4 L164.9,474.4 L165.8,478.4 M166.9,482.7 L167.8,479.7 L168.7,482.7 M204.1,474.0 L205.0,466.5 L205.9,474.0 M207.0,475.9 L207.9,471.4 L208.8,475.9 M209.3,477.8 L210.2,474.3 L211.1,477.8 M228.7,473.8 L229.6,468.3 L230.5,473.8 M239.6,478.9 L240.5,475.9 L241.4,478.9 M241.4,476.8 L242.3,470.3 L243.2,476.8 M243.7,473.7 L244.6,468.2 L245.5,473.7 M246.0,476.2 L246.9,468.7 L247.8,476.2 M249.6,478.4 L250.5,475.9 L251.4,478.4 M251.4,475.7 L252.3,470.2 L253.2,475.7 M254.3,480.2 L255.2,474.7 L256.1,480.2 M258.7,475.3 L259.6,467.8 L260.5,475.3 M263.1,481.8 L264.0,474.3 L264.9,481.8 M264.9,480.9 L265.8,477.9 L266.7,480.9 M267.8,478.1 L268.7,470.6 L269.6,478.1 M269.6,480.9 L270.5,478.4 L271.4,480.9 M272.5,481.0 L273.4,473.5 L274.3,481.0 M275.4,482.0 L276.3,475.5 L277.2,482.0 M278.3,477.2 L279.2,474.7 L280.1,477.2 M281.9,480.0 L282.8,474.5 L283.7,480.0 M288.6,472.8 L289.5,469.8 L290.4,472.8 M292.2,476.0 L293.1,473.5 L294.0,476.0 M294.5,474.3 L295.4,469.8 L296.3,474.3 M296.8,476.0 L297.7,472.0 L298.6,476.0 M300.4,481.7 L301.3,475.2 L302.2,481.7 M304.0,478.2 L304.9,475.2 L305.8,478.2 M306.3,481.4 L307.2,473.9 L308.1,481.4 M309.9,479.4 L310.8,474.9 L311.7,479.4 M312.2,481.0 L313.1,474.5 L314.0,481.0 M316.6,481.8 L317.5,477.3 L318.4,481.8 M320.2,480.5 L321.1,475.0 L322.0,480.5 M339.4,472.6 L340.3,470.1 L341.2,472.6 M343.0,481.1 L343.9,477.6 L344.8,481.1 M345.9,478.0 L346.8,473.5 L347.7,478.0 M347.7,475.6 L348.6,472.1 L349.5,475.6 M351.3,472.6 L352.2,467.1 L353.1,472.6 M355.7,481.0 L356.6,475.5 L357.5,481.0 M358.0,476.5 L358.9,474.0 L359.8,476.5 M361.6,475.8 L362.5,469.3 L363.4,475.8 M365.2,479.3 L366.1,472.8 L367.0,479.3 M368.8,478.2 L369.7,475.2 L370.6,478.2 M372.4,480.6 L373.3,474.1 L374.2,480.6 M374.2,484.0 L375.1,480.0 L376.0,484.0 M376.0,485.1 L376.9,481.1 L377.8,485.1 M379.6,483.3 L380.5,479.8 L381.4,483.3 M381.4,481.9 L382.3,476.4 L383.2,481.9 M385.8,483.3 L386.7,480.8 L387.6,483.3 M387.6,479.7 L388.5,477.2 L389.4,479.7 M394.3,477.2 L395.2,474.2 L396.1,477.2 M397.2,478.4 L398.1,475.9 L399.0,478.4 M399.0,482.8 L399.9,478.8 L400.8,482.8 M403.4,483.1 L404.3,476.6 L405.2,483.1 M405.7,483.2 L406.6,478.7 L407.5,483.2 M408.6,482.6 L409.5,477.1 L410.4,482.6 M412.2,482.4 L413.1,479.4 L414.0,482.4 M414.0,483.3 L414.9,475.8 L415.8,483.3 M417.6,483.6 L418.5,476.1 L419.4,483.6 M421.2,485.3 L422.1,480.8 L423.0,485.3 M423.0,482.6 L423.9,479.1 L424.8,482.6 M424.8,485.6 L425.7,480.1 L426.6,485.6 M427.7,487.5 L428.6,480.0 L429.5,487.5 M436.2,475.3 L437.1,471.3 L438.0,475.3 M450.2,483.0 L451.1,480.5 L452.0,483.0 M454.6,476.8 L455.5,472.3 L456.4,476.8 M456.4,481.5 L457.3,477.0 L458.2,481.5 M460.8,470.5 L461.7,465.0 L462.6,470.5 M463.1,482.1 L464.0,476.6 L464.9,482.1 M465.4,483.2 L466.3,477.7 L467.2,483.2 M467.7,485.4 L468.6,481.4 L469.5,485.4 M470.0,483.0 L470.9,476.5 L471.8,483.0 M472.3,484.5 L473.2,480.5 L474.1,484.5 M476.7,485.4 L477.6,477.9 L478.5,485.4 M479.6,483.6 L480.5,481.1 L481.4,483.6 M481.4,484.2 L482.3,479.7 L483.2,484.2 M485.0,483.5 L485.9,479.0 L486.8,483.5 M487.3,481.5 L488.2,476.0 L489.1,481.5 M490.9,485.2 L491.8,479.7 L492.7,485.2 M493.8,484.0 L494.7,481.0 L495.6,484.0 M496.1,483.3 L497.0,480.3 L497.9,483.3 M498.4,484.9 L499.3,477.4 L500.2,484.9 M500.7,484.8 L501.6,479.3 L502.5,484.8 M503.0,484.1 L503.9,476.6 L504.8,484.1 M507.4,486.9 L508.3,484.4 L509.2,486.9 M511.0,487.5 L511.9,482.0 L512.8,487.5 M524.1,485.6 L525.0,482.1 L525.9,485.6 M527.7,487.4 L528.6,481.9 L529.5,487.4 M529.5,488.0 L530.4,481.5 L531.3,488.0 M533.1,484.8 L534.0,478.3 L534.9,484.8 M534.9,482.4 L535.8,478.9 L536.7,482.4 M537.2,477.6 L538.1,474.1 L539.0,477.6 M539.0,475.5 L539.9,472.0 L540.8,475.5 M543.4,483.8 L544.3,476.3 L545.2,483.8 M545.7,485.1 L546.6,477.6 L547.5,485.1 M548.6,486.2 L549.5,482.7 L550.4,486.2 M553.0,482.0 L553.9,478.5 L554.8,482.0 M554.8,483.5 L555.7,481.0 L556.6,483.5 M556.6,488.0 L557.5,484.5 L558.4,488.0 M560.2,482.8 L561.1,478.8 L562.0,482.8 M562.5,480.6 L563.4,478.1 L564.3,480.6 M565.4,484.9 L566.3,480.9 L567.2,484.9 M568.3,482.5 L569.2,478.5 L570.1,482.5 M572.7,483.7 L573.6,478.2 L574.5,483.7 M575.6,482.3 L576.5,475.8 L577.4,482.3 M577.9,484.2 L578.8,481.7 L579.7,484.2 M580.8,485.8 L581.7,478.3 L582.6,485.8 M585.2,486.4 L586.1,479.9 L587.0,486.4 M589.6,482.5 L590.5,479.0 L591.4,482.5 M594.0,486.2 L594.9,482.7 L595.8,486.2 M598.4,482.5 L599.3,480.0 L600.2,482.5 M602.0,482.4 L602.9,478.9 L603.8,482.4 M606.4,479.9 L607.3,477.4 L608.2,479.9 M608.7,481.8 L609.6,478.3 L610.5,481.8 M611.0,482.5 L611.9,475.0 L612.8,482.5 M615.4,485.9 L616.3,482.9 L617.2,485.9 M619.8,485.6 L620.7,483.1 L621.6,485.6 M622.7,482.5 L623.6,475.0 L624.5,482.5 M624.5,482.5 L625.4,480.0 L626.3,482.5 M626.8,482.3 L627.7,478.3 L628.6,482.3 M629.7,480.6 L630.6,478.1 L631.5,480.6 M631.5,483.3 L632.4,475.8 L633.3,483.3 M635.9,483.1 L636.8,480.6 L637.7,483.1 M637.7,482.6 L638.6,475.1 L639.5,482.6 M640.6,481.0 L641.5,477.0 L642.4,481.0 M643.5,487.3 L644.4,479.8 L645.3,487.3 M647.9,484.0 L648.8,476.5 L649.7,484.0 M652.3,487.2 L653.2,483.2 L654.1,487.2 M656.7,487.7 L657.6,483.2 L658.5,487.7 M661.1,486.2 L662.0,482.2 L662.9,486.2 M664.7,487.8 L665.6,484.3 L666.5,487.8 M668.3,480.8 L669.2,477.8 L670.1,480.8 M671.9,486.3 L672.8,478.8 L673.7,486.3 M674.8,483.9 L675.7,480.9 L676.6,483.9 M677.1,487.3 L678.0,480.8 L678.9,487.3 M678.9,487.5 L679.8,483.5 L680.7,487.5 M681.8,487.0 L682.7,484.0 L683.6,487.0 M684.1,487.5 L685.0,482.0 L685.9,487.5 M686.4,480.7 L687.3,476.2 L688.2,480.7 M688.7,487.6 L689.6,480.1 L690.5,487.6 M691.0,487.8 L691.9,484.8 L692.8,487.8 M694.6,487.9 L695.5,480.4 L696.4,487.9 M696.9,487.7 L697.8,483.7 L698.7,487.7 M699.2,487.5 L700.1,481.0 L701.0,487.5 M703.6,487.8 L704.5,481.3 L705.4,487.8 M706.5,486.8 L707.4,480.3 L708.3,486.8 M708.8,483.8 L709.7,478.3 L710.6,483.8 M711.7,487.3 L712.6,484.3 L713.5,487.3 M714.6,486.0 L715.5,483.5 L716.4,486.0 M717.5,480.8 L718.4,473.3 L719.3,480.8 M721.1,487.0 L722.0,484.5 L722.9,487.0 M724.7,488.0 L725.6,482.5 L726.5,488.0 M729.1,487.8 L730.0,483.3 L730.9,487.8 M733.5,487.5 L734.4,484.5 L735.3,487.5 M735.3,485.6 L736.2,481.6 L737.1,485.6 M737.1,487.2 L738.0,484.2 L738.9,487.2 M740.0,487.9 L740.9,483.4 L741.8,487.9 M741.8,487.7 L742.7,484.2 L743.6,487.7 M744.7,487.5 L745.6,484.0 L746.5,487.5" fill="none" stroke="#0000a4" stroke-width="0.9" stroke-linejoin="miter"/>
<polygon points="101.5,489 101.5,477.8 102.8,479.4 104.3,482.5 105.9,476.2 106.5,442.9 107.5,442.1 108.1,476.2 109.4,484.1 110.7,487.0 136.1,487.0 136.9,478.6 157.5,478.6 160.7,481.0 163.1,479.4 164.7,478.1 171.8,478.6 172.6,486.5 173.2,478.6 173.8,486.5 174.4,478.6 174.7,486.5 175.3,458.5 182.5,458.5 183.3,480.0 185.5,481.2 188.0,480.0 190.5,478.7 191.2,457.2 193.3,457.2 194.4,478.7 197.5,481.2 201.2,480.0 202.5,447.5 208.7,447.2 214.3,448.7 215.0,478.7 219.3,481.8 221.8,478.7 223.1,447.2 229.9,448.5 231.8,457.5 233.0,476.2 234.9,485.0 236.8,481.2 238.7,477.4 239.3,458.0 240.9,458.0 241.4,477.4 244.9,479.3 249.9,479.3 252.4,473.0 254.3,478.7 257.4,481.2 261.2,482.4 264.3,485.0 264.9,487.5 280.0,487.5 288.7,487.4 291.2,485.0 291.9,478.7 296.9,478.7 298.1,483.7 301.2,485.5 305.0,487.4 320.0,487.4 321.2,485.0 323.7,481.2 327.4,476.2 329.3,468.7 329.9,457.5 331.4,456.8 332.4,468.7 333.7,471.2 335.6,472.4 336.2,477.4 338.1,479.3 338.7,485.0 340.6,485.0 341.2,478.7 343.7,478.7 344.9,481.8 348.0,481.8 349.9,479.3 352.4,478.7 354.9,478.0 356.8,478.7 358.7,481.2 361.1,482.4 363.0,480.5 364.9,478.7 367.4,478.7 368.9,481.8 371.8,481.8 373.0,478.7 376.2,478.7 377.5,482.4 379.4,485.0 386.2,485.0 388.7,481.8 391.2,481.2 392.5,457.5 396.0,457.5 396.5,476.2 400.0,478.7 402.5,482.4 405.0,485.0 416.0,485.0 419.9,486.8 429.9,487.4 433.7,485.0 434.9,473.7 437.4,470.0 438.4,457.5 439.9,457.5 441.2,470.0 443.7,477.4 444.9,480.0 447.4,478.7 449.9,482.4 452.4,483.7 454.9,480.0 456.1,457.5 458.9,457.5 459.6,478.7 461.8,482.4 465.5,482.4 466.9,480.0 469.4,480.0 470.6,485.0 476.2,484.3 482.5,485.0 488.7,485.0 492.5,486.2 497.5,485.0 499.9,486.8 512.4,486.8 514.9,485.0 516.8,478.7 529.3,478.7 530.5,483.7 532.4,485.0 534.9,486.2 538.0,484.3 541.1,482.4 543.0,478.7 547.4,478.7 548.0,485.0 551.1,485.0 553.6,482.4 554.6,478.7 555.5,478.7 556.7,485.0 559.0,485.5 560.3,478.7 563.7,478.7 565.0,482.4 566.9,485.0 570.0,483.7 572.5,481.2 574.3,478.7 577.5,478.7 579.3,483.7 580.6,485.5 585.0,485.5 586.2,482.4 587.5,478.4 590.6,478.4 591.8,485.0 597.4,485.5 598.7,478.4 602.4,478.4 603.7,485.0 607.4,485.5 609.3,482.4 609.9,478.4 614.9,478.4 616.8,485.0 621.8,485.5 623.0,478.4 627.4,478.4 629.3,485.0 634.9,485.5 636.1,481.2 637.4,478.4 642.4,478.7 643.6,485.0 646.7,485.2 648.2,479.2 652.7,479.2 654.2,485.2 658.7,486.0 660.2,483.0 662.2,479.2 669.2,479.2 670.7,486.0 672.2,486.0 673.3,479.2 675.2,479.2 676.7,486.0 684.9,486.0 686.4,480.0 688.9,480.0 689.7,463.4 690.9,463.4 691.6,484.4 696.9,486.0 704.4,486.7 708.2,484.4 710.4,486.7 720.9,486.0 730.0,486.7 749.0,487.0 749,489" fill="url(#hr)"/>
<polyline points="101.5,477.8 102.8,479.4 104.3,482.5 105.9,476.2 106.5,442.9 107.5,442.1 108.1,476.2 109.4,484.1 110.7,487.0 136.1,487.0 136.9,478.6 157.5,478.6 160.7,481.0 163.1,479.4 164.7,478.1 171.8,478.6 172.6,486.5 173.2,478.6 173.8,486.5 174.4,478.6 174.7,486.5 175.3,458.5 182.5,458.5 183.3,480.0 185.5,481.2 188.0,480.0 190.5,478.7 191.2,457.2 193.3,457.2 194.4,478.7 197.5,481.2 201.2,480.0 202.5,447.5 208.7,447.2 214.3,448.7 215.0,478.7 219.3,481.8 221.8,478.7 223.1,447.2 229.9,448.5 231.8,457.5 233.0,476.2 234.9,485.0 236.8,481.2 238.7,477.4 239.3,458.0 240.9,458.0 241.4,477.4 244.9,479.3 249.9,479.3 252.4,473.0 254.3,478.7 257.4,481.2 261.2,482.4 264.3,485.0 264.9,487.5 280.0,487.5 288.7,487.4 291.2,485.0 291.9,478.7 296.9,478.7 298.1,483.7 301.2,485.5 305.0,487.4 320.0,487.4 321.2,485.0 323.7,481.2 327.4,476.2 329.3,468.7 329.9,457.5 331.4,456.8 332.4,468.7 333.7,471.2 335.6,472.4 336.2,477.4 338.1,479.3 338.7,485.0 340.6,485.0 341.2,478.7 343.7,478.7 344.9,481.8 348.0,481.8 349.9,479.3 352.4,478.7 354.9,478.0 356.8,478.7 358.7,481.2 361.1,482.4 363.0,480.5 364.9,478.7 367.4,478.7 368.9,481.8 371.8,481.8 373.0,478.7 376.2,478.7 377.5,482.4 379.4,485.0 386.2,485.0 388.7,481.8 391.2,481.2 392.5,457.5 396.0,457.5 396.5,476.2 400.0,478.7 402.5,482.4 405.0,485.0 416.0,485.0 419.9,486.8 429.9,487.4 433.7,485.0 434.9,473.7 437.4,470.0 438.4,457.5 439.9,457.5 441.2,470.0 443.7,477.4 444.9,480.0 447.4,478.7 449.9,482.4 452.4,483.7 454.9,480.0 456.1,457.5 458.9,457.5 459.6,478.7 461.8,482.4 465.5,482.4 466.9,480.0 469.4,480.0 470.6,485.0 476.2,484.3 482.5,485.0 488.7,485.0 492.5,486.2 497.5,485.0 499.9,486.8 512.4,486.8 514.9,485.0 516.8,478.7 529.3,478.7 530.5,483.7 532.4,485.0 534.9,486.2 538.0,484.3 541.1,482.4 543.0,478.7 547.4,478.7 548.0,485.0 551.1,485.0 553.6,482.4 554.6,478.7 555.5,478.7 556.7,485.0 559.0,485.5 560.3,478.7 563.7,478.7 565.0,482.4 566.9,485.0 570.0,483.7 572.5,481.2 574.3,478.7 577.5,478.7 579.3,483.7 580.6,485.5 585.0,485.5 586.2,482.4 587.5,478.4 590.6,478.4 591.8,485.0 597.4,485.5 598.7,478.4 602.4,478.4 603.7,485.0 607.4,485.5 609.3,482.4 609.9,478.4 614.9,478.4 616.8,485.0 621.8,485.5 623.0,478.4 627.4,478.4 629.3,485.0 634.9,485.5 636.1,481.2 637.4,478.4 642.4,478.7 643.6,485.0 646.7,485.2 648.2,479.2 652.7,479.2 654.2,485.2 658.7,486.0 660.2,483.0 662.2,479.2 669.2,479.2 670.7,486.0 672.2,486.0 673.3,479.2 675.2,479.2 676.7,486.0 684.9,486.0 686.4,480.0 688.9,480.0 689.7,463.4 690.9,463.4 691.6,484.4 696.9,486.0 704.4,486.7 708.2,484.4 710.4,486.7 720.9,486.0 730.0,486.7 749.0,487.0" fill="none" stroke="#f40000" stroke-width="1.85"/>
</g>
<rect x="100.5" y="21.5" width="649" height="123" fill="none" stroke="#000" stroke-width="1"/>
<rect x="100.5" y="156.5" width="649" height="145" fill="none" stroke="#000" stroke-width="1"/>
<rect x="100.5" y="313.5" width="649" height="175" fill="none" stroke="#000" stroke-width="1"/>
<rect x="95" y="21" width="6" height="1" fill="#000"/>
<text x="92" y="25.6" text-anchor="end" textLength="18.3" lengthAdjust="spacingAndGlyphs">0.0</text>
<rect x="95" y="34" width="6" height="1" fill="#000"/>
<rect x="95" y="48" width="6" height="1" fill="#000"/>
<text x="92" y="52.6" text-anchor="end" textLength="18.3" lengthAdjust="spacingAndGlyphs">1.0</text>
<rect x="95" y="62" width="6" height="1" fill="#000"/>
<rect x="95" y="76" width="6" height="1" fill="#000"/>
<text x="92" y="80.6" text-anchor="end" textLength="18.3" lengthAdjust="spacingAndGlyphs">2.0</text>
<rect x="95" y="89" width="6" height="1" fill="#000"/>
<rect x="95" y="103" width="6" height="1" fill="#000"/>
<text x="92" y="107.6" text-anchor="end" textLength="18.3" lengthAdjust="spacingAndGlyphs">3.0</text>
<rect x="95" y="117" width="6" height="1" fill="#000"/>
<rect x="95" y="131" width="6" height="1" fill="#000"/>
<text x="92" y="135.6" text-anchor="end" textLength="18.3" lengthAdjust="spacingAndGlyphs">4.0</text>
<rect x="95" y="145" width="6" height="1" fill="#000"/>
<rect x="95" y="156" width="6" height="1" fill="#000"/>
<rect x="95" y="170" width="6" height="1" fill="#000"/>
<text x="92" y="174.6" text-anchor="end" textLength="46.8" lengthAdjust="spacingAndGlyphs">1,013.0</text>
<rect x="95" y="185" width="6" height="1" fill="#000"/>
<rect x="95" y="199" width="6" height="1" fill="#000"/>
<text x="92" y="203.6" text-anchor="end" textLength="46.8" lengthAdjust="spacingAndGlyphs">1,012.0</text>
<rect x="95" y="214" width="6" height="1" fill="#000"/>
<rect x="95" y="229" width="6" height="1" fill="#000"/>
<text x="92" y="233.6" text-anchor="end" textLength="46.8" lengthAdjust="spacingAndGlyphs">1,011.0</text>
<rect x="95" y="243" width="6" height="1" fill="#000"/>
<rect x="95" y="258" width="6" height="1" fill="#000"/>
<text x="92" y="262.6" text-anchor="end" textLength="46.8" lengthAdjust="spacingAndGlyphs">1,010.0</text>
<rect x="95" y="272" width="6" height="1" fill="#000"/>
<rect x="95" y="287" width="6" height="1" fill="#000"/>
<text x="92" y="291.6" text-anchor="end" textLength="46.8" lengthAdjust="spacingAndGlyphs">1,009.0</text>
<rect x="95" y="302" width="6" height="1" fill="#000"/>
<rect x="95" y="489" width="6" height="1" fill="#000"/>
<text x="92" y="493.6" text-anchor="end" textLength="7.6" lengthAdjust="spacingAndGlyphs">0</text>
<rect x="95" y="452" width="6" height="1" fill="#000"/>
<text x="92" y="456.6" text-anchor="end" textLength="22.9" lengthAdjust="spacingAndGlyphs">500</text>
<rect x="95" y="415" width="6" height="1" fill="#000"/>
<text x="92" y="419.6" text-anchor="end" textLength="35.2" lengthAdjust="spacingAndGlyphs">1,000</text>
<rect x="95" y="379" width="6" height="1" fill="#000"/>
<text x="92" y="383.6" text-anchor="end" textLength="35.2" lengthAdjust="spacingAndGlyphs">1,500</text>
<rect x="95" y="342" width="6" height="1" fill="#000"/>
<text x="92" y="346.6" text-anchor="end" textLength="35.2" lengthAdjust="spacingAndGlyphs">2,000</text>
<text transform="translate(32.1,84.4) rotate(-90)" text-anchor="middle" textLength="51.6" lengthAdjust="spacingAndGlyphs">Precip ()</text>
<text transform="translate(32.1,232.4) rotate(-90)" text-anchor="middle" textLength="37.3" lengthAdjust="spacingAndGlyphs">Elev ()</text>
<text transform="translate(32.1,422.5) rotate(-90)" text-anchor="middle" textLength="39.1" lengthAdjust="spacingAndGlyphs">Flow ()</text>
<rect x="101" y="489" width="1" height="6" fill="#000"/>
<text x="101.5" y="508" text-anchor="middle" textLength="20" lengthAdjust="spacingAndGlyphs">Jan</text>
<rect x="206" y="489" width="1" height="6" fill="#000"/>
<text x="206.5" y="508" text-anchor="middle" textLength="23" lengthAdjust="spacingAndGlyphs">Mar</text>
<rect x="314" y="489" width="1" height="6" fill="#000"/>
<text x="314.5" y="508" text-anchor="middle" textLength="24" lengthAdjust="spacingAndGlyphs">May</text>
<rect x="423" y="489" width="1" height="6" fill="#000"/>
<text x="423.5" y="508" text-anchor="middle" textLength="14" lengthAdjust="spacingAndGlyphs">Jul</text>
<rect x="533" y="489" width="1" height="6" fill="#000"/>
<text x="533.5" y="508" text-anchor="middle" textLength="23" lengthAdjust="spacingAndGlyphs">Sep</text>
<rect x="641" y="489" width="1" height="6" fill="#000"/>
<text x="641.5" y="508" text-anchor="middle" textLength="23" lengthAdjust="spacingAndGlyphs">Nov</text>
<rect x="101" y="514" width="1" height="16" fill="#000"/>
<text x="425" y="524.5" text-anchor="middle" textLength="30.5" lengthAdjust="spacingAndGlyphs">2022</text>
<rect x="29" y="541" width="34" height="5" fill="#0000a4"/>
<text x="69.5" y="549" textLength="123" lengthAdjust="spacingAndGlyphs">CBR OBS PRECIP-INC</text>
<rect x="242" y="544" width="33" height="2" fill="#000"/>
<text x="282.5" y="549" textLength="87" lengthAdjust="spacingAndGlyphs">CBR OBS ELEV</text>
<rect x="400" y="544" width="33" height="2" fill="#d20000"/>
<text x="440.5" y="549" textLength="144" lengthAdjust="spacingAndGlyphs">CBR GUIDE CURVE ELEV</text>
<rect x="616" y="544" width="33" height="2" fill="#0000a4"/>
<path d="M618,546 l-1.8,1.8 M625.8,546 l-2.8,2.8 M633.8,546 l-2.8,2.8 M642,546 l-2.8,2.8 M650,546 l-2.8,2.8" stroke="#0000a4" stroke-width="1.2" fill="none"/>
<text x="656" y="549" textLength="90" lengthAdjust="spacingAndGlyphs">CBR OBS FLOW</text>
<rect x="29" y="562.8" width="33" height="1.1" fill="#e00000"/><rect x="29" y="563.8" width="33" height="1.1" fill="#a80808"/>
<path d="M34,564.5 l2.9,2.9 M42,564.5 l2.9,2.9 M50,564.5 l2.9,2.9 M57.7,564.5 l2.9,2.9" stroke="#a80808" stroke-width="1.2" fill="none"/>
<text x="69.5" y="568" textLength="146" lengthAdjust="spacingAndGlyphs">CBR OBS FLOW-RES OUT</text>
</svg></body></html>
